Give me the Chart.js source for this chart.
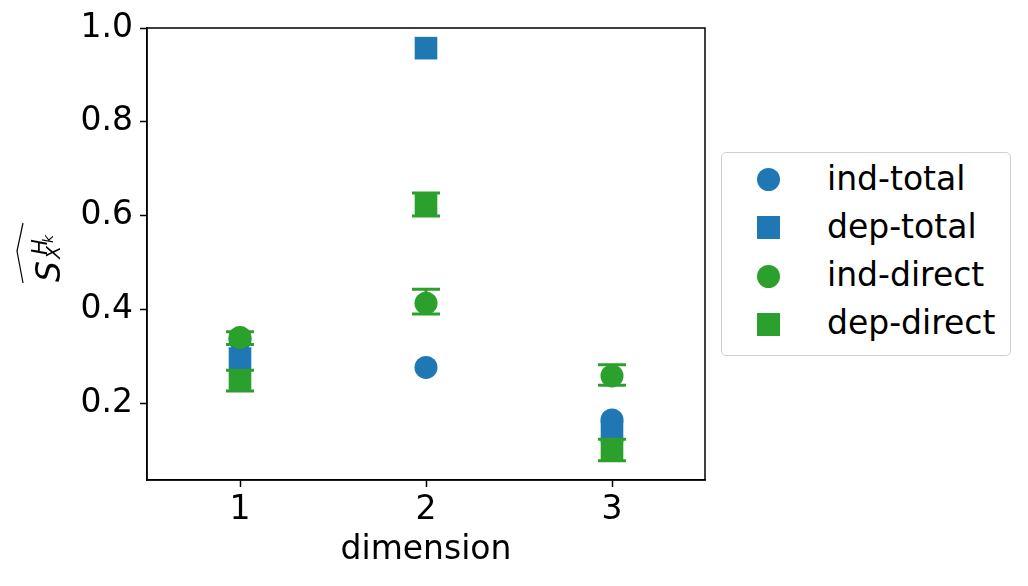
<!DOCTYPE html>
<html>
<head>
<meta charset="utf-8">
<script src="https://cdn.jsdelivr.net/npm/chart.js@4"></script>
<style>
  body { margin: 0; background: #fff; font-family: "DejaVu Sans", sans-serif; }
  #wrap { position: relative; width: 1028px; height: 586px; }
  #ylabel { position: absolute; left: 0; top: 0; }
  #legend { position: absolute; left: 721px; top: 152px; width: 288px; height: 202px;
            border: 1px solid #d0d0d0; border-radius: 5px; background: #fff; }
  .mk { position: absolute; left: 35px; width: 23px; height: 23px; }
  .txt { position: absolute; left: 105px; font-size: 33px; line-height: 33px; white-space: nowrap; color: #000; }
</style>
</head>
<body>
<div id="wrap">
  <canvas id="chart" width="1028" height="586"></canvas>
  <svg id="ylabel" width="90" height="586">
    <g transform="translate(16,283) rotate(-90)" font-family="DejaVu Sans" font-style="italic" fill="#000">
      <polyline points="0,7 32,1 60,7" fill="none" stroke="#000" stroke-width="1.2"/>
      <text x="1" y="44" font-size="33">S</text>
      <text x="28" y="31" font-size="21">H</text>
      <text x="24" y="44" font-size="19">X</text>
      <text x="40" y="37" font-size="14">k</text>
    </g>
  </svg>
  <div id="legend"></div>
</div>
<script>
const dimensions = [1, 2, 3];
const yTicks = [0.2, 0.4, 0.6, 0.8, 1.0];

const indTotal = [0.335, 0.276, 0.164];
const depTotal = [0.295, 0.957, 0.140];
const indDirect = [0.340, 0.413, 0.258];
const depDirect = [0.248, 0.624, 0.100];

// error bar ends [low, high]
const indDirectErr = [[0.325, 0.352], [0.390, 0.443], [0.238, 0.282]];
const depDirectErr = [[0.226, 0.270], [0.599, 0.648], [0.077, 0.123]];

const BLUE = '#1f77b4';
const GREEN = '#2ca02c';
const FONT = { family: 'DejaVu Sans', size: 33 };

function toPoints(vals) {
    return dimensions.map((d, i) => ({ x: d, y: vals[i] }));
}

const series = [
    { label: 'ind-total', data: indTotal, color: BLUE, style: 'circle', order: 4 },
    { label: 'dep-total', data: depTotal, color: BLUE, style: 'rect', order: 3 },
    { label: 'ind-direct', data: indDirect, color: GREEN, style: 'circle', order: 2, err: indDirectErr },
    { label: 'dep-direct', data: depDirect, color: GREEN, style: 'rect', order: 1, err: depDirectErr }
];

// legend
const legend = document.getElementById('legend');
series.forEach((s, i) => {
    const step = i * 48.3;
    const mk = document.createElement('div');
    mk.className = 'mk';
    mk.style.top = (15 + step) + 'px';
    mk.style.background = s.color;
    mk.style.borderRadius = s.style === 'circle' ? '50%' : '0';
    legend.appendChild(mk);
    const txt = document.createElement('span');
    txt.className = 'txt';
    txt.style.top = (8.5 + step) + 'px';
    txt.textContent = s.label;
    legend.appendChild(txt);
});

const errorBars = {
    id: 'errorBars',
    afterDatasetsDraw(chart) {
        const ctx = chart.ctx;
        const xs = chart.scales.x, ys = chart.scales.y;
        series.forEach(s => {
            if (!s.err) return;
            ctx.save();
            ctx.strokeStyle = s.color;
            ctx.lineWidth = 3;
            s.err.forEach((e, i) => {
                const x = xs.getPixelForValue(dimensions[i]);
                const y0 = ys.getPixelForValue(e[0]);
                const y1 = ys.getPixelForValue(e[1]);
                ctx.beginPath();
                ctx.moveTo(x, y0); ctx.lineTo(x, y1);
                ctx.moveTo(x - 14, y0); ctx.lineTo(x + 14, y0);
                ctx.moveTo(x - 14, y1); ctx.lineTo(x + 14, y1);
                ctx.stroke();
            });
            ctx.restore();
        });
    }
};

const frame = {
    id: 'frame',
    afterDraw(chart) {
        const a = chart.chartArea, ctx = chart.ctx;
        ctx.save();
        ctx.strokeStyle = '#000';
        ctx.lineWidth = 1.5;
        ctx.strokeRect(a.left, a.top, a.right - a.left, a.bottom - a.top);
        ctx.restore();
    }
};

new Chart(document.getElementById('chart').getContext('2d'), {
    type: 'scatter',
    data: {
        datasets: series.map(s => ({
            label: s.label,
            data: toPoints(s.data),
            pointStyle: s.style,
            pointRadius: s.style === 'rect' ? 16 : 11.5,
            pointHoverRadius: s.style === 'rect' ? 16 : 11.5,
            backgroundColor: s.color,
            borderColor: s.color,
            borderWidth: 0,
            order: s.order
        }))
    },
    options: {
        responsive: false,
        animation: false,
        layout: { padding: { left: 0, right: 323, top: 28, bottom: 0 } },
        plugins: { legend: { display: false }, tooltip: { enabled: false } },
        scales: {
            x: {
                type: 'linear',
                min: 0.5,
                max: 3.5,
                afterBuildTicks: axis => { axis.ticks = dimensions.map(v => ({ value: v })); },
                afterFit: axis => { axis.height = 106; },
                ticks: { color: '#000', font: FONT, padding: 4, callback: v => String(v) },
                grid: { drawOnChartArea: false, drawTicks: true, tickLength: 7, color: '#000', tickWidth: 1.5 },
                border: { display: true, color: '#000', width: 1.5 },
                title: { display: true, text: 'dimension', color: '#000', font: FONT,
                         padding: { top: 0, bottom: 16 } }
            },
            y: {
                type: 'linear',
                min: 0.036,
                max: 1.0,
                afterBuildTicks: axis => { axis.ticks = yTicks.map(v => ({ value: v })); },
                afterFit: axis => { axis.width = 147; },
                ticks: { color: '#000', font: FONT, padding: 7, callback: v => v.toFixed(1) },
                grid: { drawOnChartArea: false, drawTicks: true, tickLength: 7, color: '#000', tickWidth: 1.5 },
                border: { display: true, color: '#000', width: 1.5 }
            }
        }
    },
    plugins: [errorBars, frame]
});
</script>
</body>
</html>
